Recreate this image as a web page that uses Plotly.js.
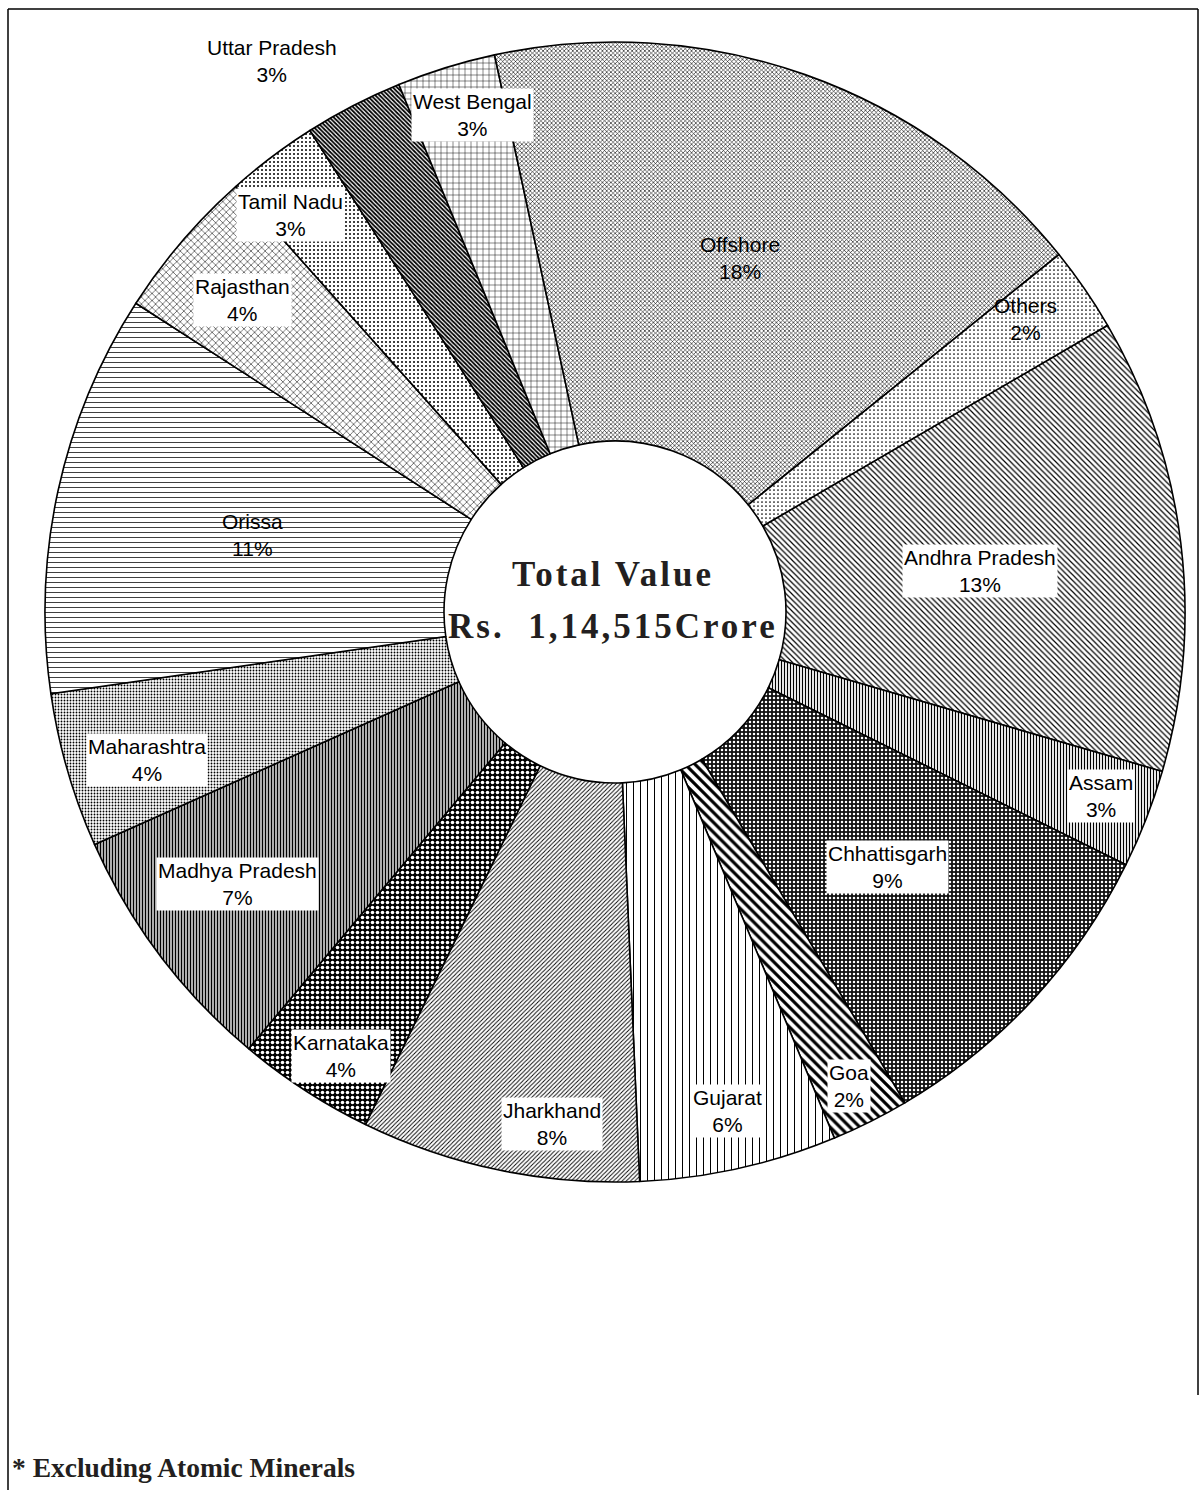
<!DOCTYPE html>
<html>
<head>
<meta charset="utf-8">
<script src="https://cdn.plot.ly/plotly-3.0.1.min.js"></script>
<style>
html,body{margin:0;padding:0;background:#ffffff;}
#chart{width:1201px;height:1490px;}
</style>
</head>
<body>
<div id="chart"></div>
<script>
// ---------------- data ----------------
const labels = ["Andhra Pradesh","Assam","Chhattisgarh","Goa","Gujarat","Jharkhand","Karnataka",
  "Madhya Pradesh","Maharashtra","Orissa","Rajasthan","Tamil Nadu","Uttar Pradesh","West Bengal",
  "Offshore","Others"];
const shares = [12.9, 2.8, 9.2, 2.2, 5.6, 7.9, 3.9, 7.2, 4.4, 11.4, 4.3, 2.6, 2.8, 2.8, 17.6, 2.4];
const centreLine1 = "Total Value";
const centreLine2 = "Rs. 1,14,515Crore";
const footnote = "* Excluding Atomic Minerals";

// ---------------- styles ----------------
const patShape = ["\\", "|", ".", "\\", "|", "/", ".", "|", ".", "-", "x", ".", "\\", "+", "x", "."];
const patFg    = ["#000","#000","#fff","#000","#000","#000","#fff","#000","#000","#000","#000","#000","#000","#000","#000","#000"];
const patBg    = ["#fff","#fff","#111","#fff","#fff","#fff","#000","#fff","#fff","#fff","#fff","#fff","#fff","#fff","#fff","#fff"];
const patSize  = [4, 3, 4, 7, 7, 3, 5, 3, 3, 5, 5, 4, 3, 6, 3, 4];
const patSolid = [0.3, 0.4, 0.3, 0.45, 0.15, 0.3, 0.4, 0.55, 0.3, 0.15, 0.2, 0.2, 0.6, 0.15, 0.35, 0.15];
// label placement: radial fraction of pie radius, angular nudge (deg), white box or not
const labelRadius = [0.644,0.912,0.655,0.927,0.897,0.905,0.916,0.817,0.862,0.651,0.852,0.90,1.139,0.907,0.659,0.885];
const labelTurn   = [0.5,-0.5,0.15,0.3,-0.1,-4.7,-1.3,1.3,-1.4,-0.3,-0.6,-2.2,-4.6,1.2,0,-1.0];
const labelBox    = [1,1,1,1,1,1,1,1,1,0,1,1,0,1,0,0];

const W = 1201, H = 1490;
const pieDomain = {x:[45/W, 1185/W], y:[1-(612+570)/H, 1-(612-570)/H]};
const rotation = 59.8;
const holeFrac = 0.3;
const sansFont = "Arial, 'Liberation Sans', sans-serif";
const serifFont = "'Times New Roman', 'Liberation Serif', serif";

const total = shares.reduce((a,b)=>a+b,0);
const cxPx = (pieDomain.x[0]+pieDomain.x[1])/2*W;
const cyPx = (1-(pieDomain.y[0]+pieDomain.y[1])/2)*H;
const Rpx = Math.min(W*(pieDomain.x[1]-pieDomain.x[0]), H*(pieDomain.y[1]-pieDomain.y[0]))/2;

let cum = 0;
const annotations = labels.map((lab,i)=>{
  const mid = rotation + (cum + shares[i]/2)/total*360 + labelTurn[i];
  cum += shares[i];
  const a = mid*Math.PI/180;
  const d = labelRadius[i]*Rpx;
  const px = cxPx + d*Math.sin(a), py = cyPx - d*Math.cos(a);
  const pct = Math.round(shares[i]/total*100);
  return {
    x:px/W, y:1-py/H, xref:'paper', yref:'paper',
    text: lab + '<br>' + pct + '%', showarrow:false,
    xanchor:'center', yanchor:'middle', align:'center',
    bgcolor: labelBox[i] ? '#ffffff' : 'rgba(0,0,0,0)', borderpad:1,
    font:{family:sansFont, size:21, color:'#000'}
  };
});

annotations.push({
  x:cxPx/W, y:1-cyPx/H, xref:'paper', yref:'paper', xshift:-2, yshift:38,
  text:'<span style="letter-spacing:3px">'+centreLine1+'</span>', showarrow:false,
  xanchor:'center', yanchor:'middle',
  font:{family:serifFont, size:35, color:'#231f20', weight:700}
});
annotations.push({
  x:cxPx/W, y:1-cyPx/H, xref:'paper', yref:'paper', xshift:-2, yshift:-14,
  text:'<span style="letter-spacing:3px">'+centreLine2.replace(' ','&nbsp;&nbsp;')+'</span>', showarrow:false,
  xanchor:'center', yanchor:'middle',
  font:{family:serifFont, size:35, color:'#231f20', weight:700}
});
annotations.push({
  x:10/W, y:1-1467/H, xref:'paper', yref:'paper',
  text:footnote, showarrow:false, xanchor:'left', yanchor:'middle',
  font:{family:serifFont, size:27.5, color:'#231f20', weight:700}
});

const border = [
  {x0:8/W, x1:1198/W, y0:1-9/H, y1:1-9/H},
  {x0:8/W, x1:8/W, y0:1-9/H, y1:0},
  {x0:1198/W, x1:1198/W, y0:1-9/H, y1:1-1395/H}
].map(s=>Object.assign({type:'line', xref:'paper', yref:'paper', line:{color:'#000', width:1.5}}, s));

const trace = {
  type:'pie',
  labels: labels,
  values: shares,
  sort:false,
  direction:'clockwise',
  rotation: rotation,
  hole: holeFrac,
  domain: pieDomain,
  textinfo:'none',
  hoverinfo:'skip',
  showlegend:false,
  marker:{
    colors: patBg,
    line:{color:'#000', width:1.6},
    pattern:{shape:patShape, fgcolor:patFg, bgcolor:patBg, size:patSize, solidity:patSolid, fillmode:'replace'}
  }
};

const layout = {
  width:W, height:H,
  margin:{l:0,r:0,t:0,b:0,pad:0},
  paper_bgcolor:'#ffffff', plot_bgcolor:'#ffffff',
  showlegend:false,
  annotations: annotations,
  shapes: border
};

Plotly.newPlot('chart', [trace], layout, {staticPlot:true, displayModeBar:false});
</script>
</body>
</html>
